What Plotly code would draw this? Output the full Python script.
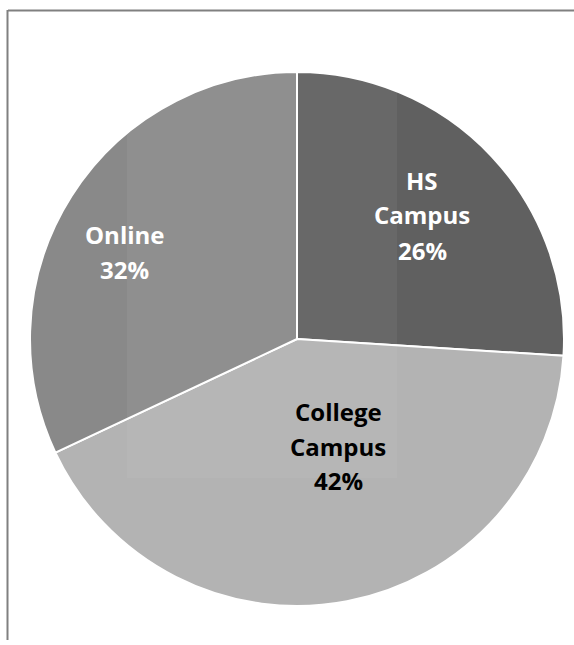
import plotly.graph_objects as go

labels = ["HS Campus", "College Campus", "Online"]
values = [26, 42, 32]
colors = ["#606060", "#b3b3b3", "#898989"]
label_lines = [["HS", "Campus", "26%"], ["College", "Campus", "42%"], ["Online", "32%"]]
label_colors = ["white", "black", "white"]
label_pos = [(422, 215), (338, 446), (125, 252)]
line_gap = 35

W, H = 574, 645

fig = go.Figure(go.Pie(
    labels=labels, values=values, sort=False, direction="clockwise", rotation=0,
    marker=dict(colors=colors, line=dict(color="white", width=2)),
    textinfo="none", hoverinfo="label+percent", showlegend=False,
    domain=dict(x=[30 / W, 564 / W], y=[1 - 606 / H, 1 - 72 / H]),
))

for lines, c, (px, py) in zip(label_lines, label_colors, label_pos):
    n = len(lines)
    for i, t in enumerate(lines):
        yy = py + (i - (n - 1) / 2) * line_gap
        fig.add_annotation(x=px / W, y=1 - yy / H, xref="paper", yref="paper",
                           text=t, showarrow=False, xanchor="center", yanchor="middle",
                           font=dict(family="Open Sans", size=24, color=c, weight="bold"))

# faint lighter rectangle overlay
fig.add_shape(type="rect", xref="paper", yref="paper",
              x0=127 / W, x1=397 / W, y0=1 - 478 / H, y1=1 - 60 / H,
              fillcolor="white", opacity=0.05, line=dict(width=0), layer="above")
# frame lines (top and left)
fig.add_shape(type="line", xref="paper", yref="paper", x0=8 / W, x1=1.0, y0=1 - 10.5 / H, y1=1 - 10.5 / H,
              line=dict(color="#808080", width=2))
fig.add_shape(type="line", xref="paper", yref="paper", x0=7.5 / W, x1=7.5 / W, y0=1 - 10 / H, y1=1 - 640 / H,
              line=dict(color="#808080", width=2))

fig.update_layout(width=W, height=H, margin=dict(l=0, r=0, t=0, b=0),
                  paper_bgcolor="white", plot_bgcolor="white")
fig.write_html("out.html")
